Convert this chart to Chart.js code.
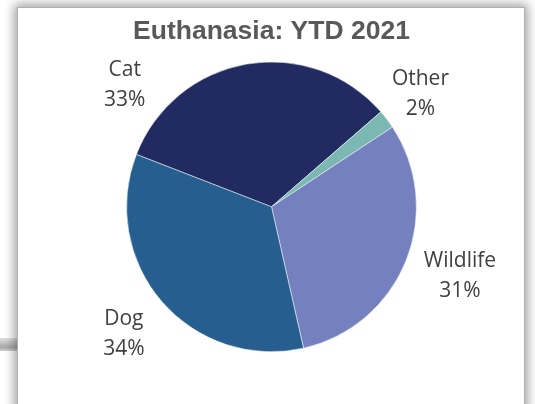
<!DOCTYPE html>
<html>
<head>
<meta charset="utf-8">
<script src="https://cdn.jsdelivr.net/npm/chart.js@4"></script>
<style>
  html, body { margin: 0; padding: 0; background: #ffffff; }
  body { width: 535px; height: 404px; position: relative; overflow: hidden; }
  #behind {
    position: absolute; left: 0; top: 338px; width: 20px; height: 13px;
    background: linear-gradient(#e2e2e2, #a8a8a8 70%, #d0d0d0);
  }
  #frame {
    position: absolute; left: 17px; top: 7px; width: 506px; height: 430px;
    background: #ffffff; border: 1px solid #b0b0b0;
    box-shadow: 0 0 10px 3px rgba(0, 0, 0, 0.36);
  }
  #chart { position: absolute; left: 0; top: 0; }
</style>
</head>
<body>
<div id="behind"></div>
<div id="frame"></div>
<canvas id="chart" width="535" height="404"></canvas>
<script>
const categories = ["Cat", "Other", "Wildlife", "Dog"];
const shares = [32.7, 2.1, 30.7, 34.4];
const sliceColors = ["#222a62", "#7bb8b1", "#7580be", "#255e8f"];

// label placement around the pie (Excel "best fit" look)
const labelDistance = [1.315, 1.29, 1.386, 1.346];
const labelShift = [-40.5, 0, -1.7, 0];

const pieLabels = {
    id: "pieLabels",
    afterDatasetsDraw(chart) {
        const ctx = chart.ctx;
        const meta = chart.getDatasetMeta(0);
        const data = chart.data.datasets[0].data;
        const total = data.reduce((a, b) => a + b, 0);

        ctx.save();
        ctx.font = "21px 'Open Sans'";
        ctx.fillStyle = "#404040";
        ctx.textAlign = "center";
        ctx.textBaseline = "middle";

        meta.data.forEach((arc, i) => {
            const p = arc.getProps(["x", "y", "startAngle", "endAngle", "outerRadius"], true);
            const mid = (p.startAngle + p.endAngle) / 2 + labelShift[i] * Math.PI / 180;
            const r = p.outerRadius * labelDistance[i];
            const lx = p.x + Math.cos(mid) * r;
            const ly = p.y + Math.sin(mid) * r;
            const pct = Math.round(data[i] / total * 100) + "%";
            ctx.fillText(chart.data.labels[i], lx, ly - 15);
            ctx.fillText(pct, lx, ly + 15);
        });

        ctx.restore();
    }
};

new Chart(document.getElementById("chart"), {
    type: "pie",
    data: {
        labels: categories,
        datasets: [
            {
                data: shares,
                backgroundColor: sliceColors,
                borderColor: "#ffffff",
                borderWidth: 0.5
            }
        ]
    },
    options: {
        responsive: false,
        animation: false,
        rotation: 291.2,
        layout: {
            padding: { top: 6, left: 8, right: 0, bottom: 52 }
        },
        plugins: {
            legend: { display: false },
            tooltip: { enabled: false },
            title: {
                display: true,
                text: "Euthanasia: YTD 2021",
                color: "#595959",
                font: { family: "'Liberation Sans', Arial, sans-serif", size: 26.5, weight: "bold" },
                padding: { top: 10, bottom: 13.9 }
            }
        }
    },
    plugins: [pieLabels]
});
</script>
</body>
</html>
